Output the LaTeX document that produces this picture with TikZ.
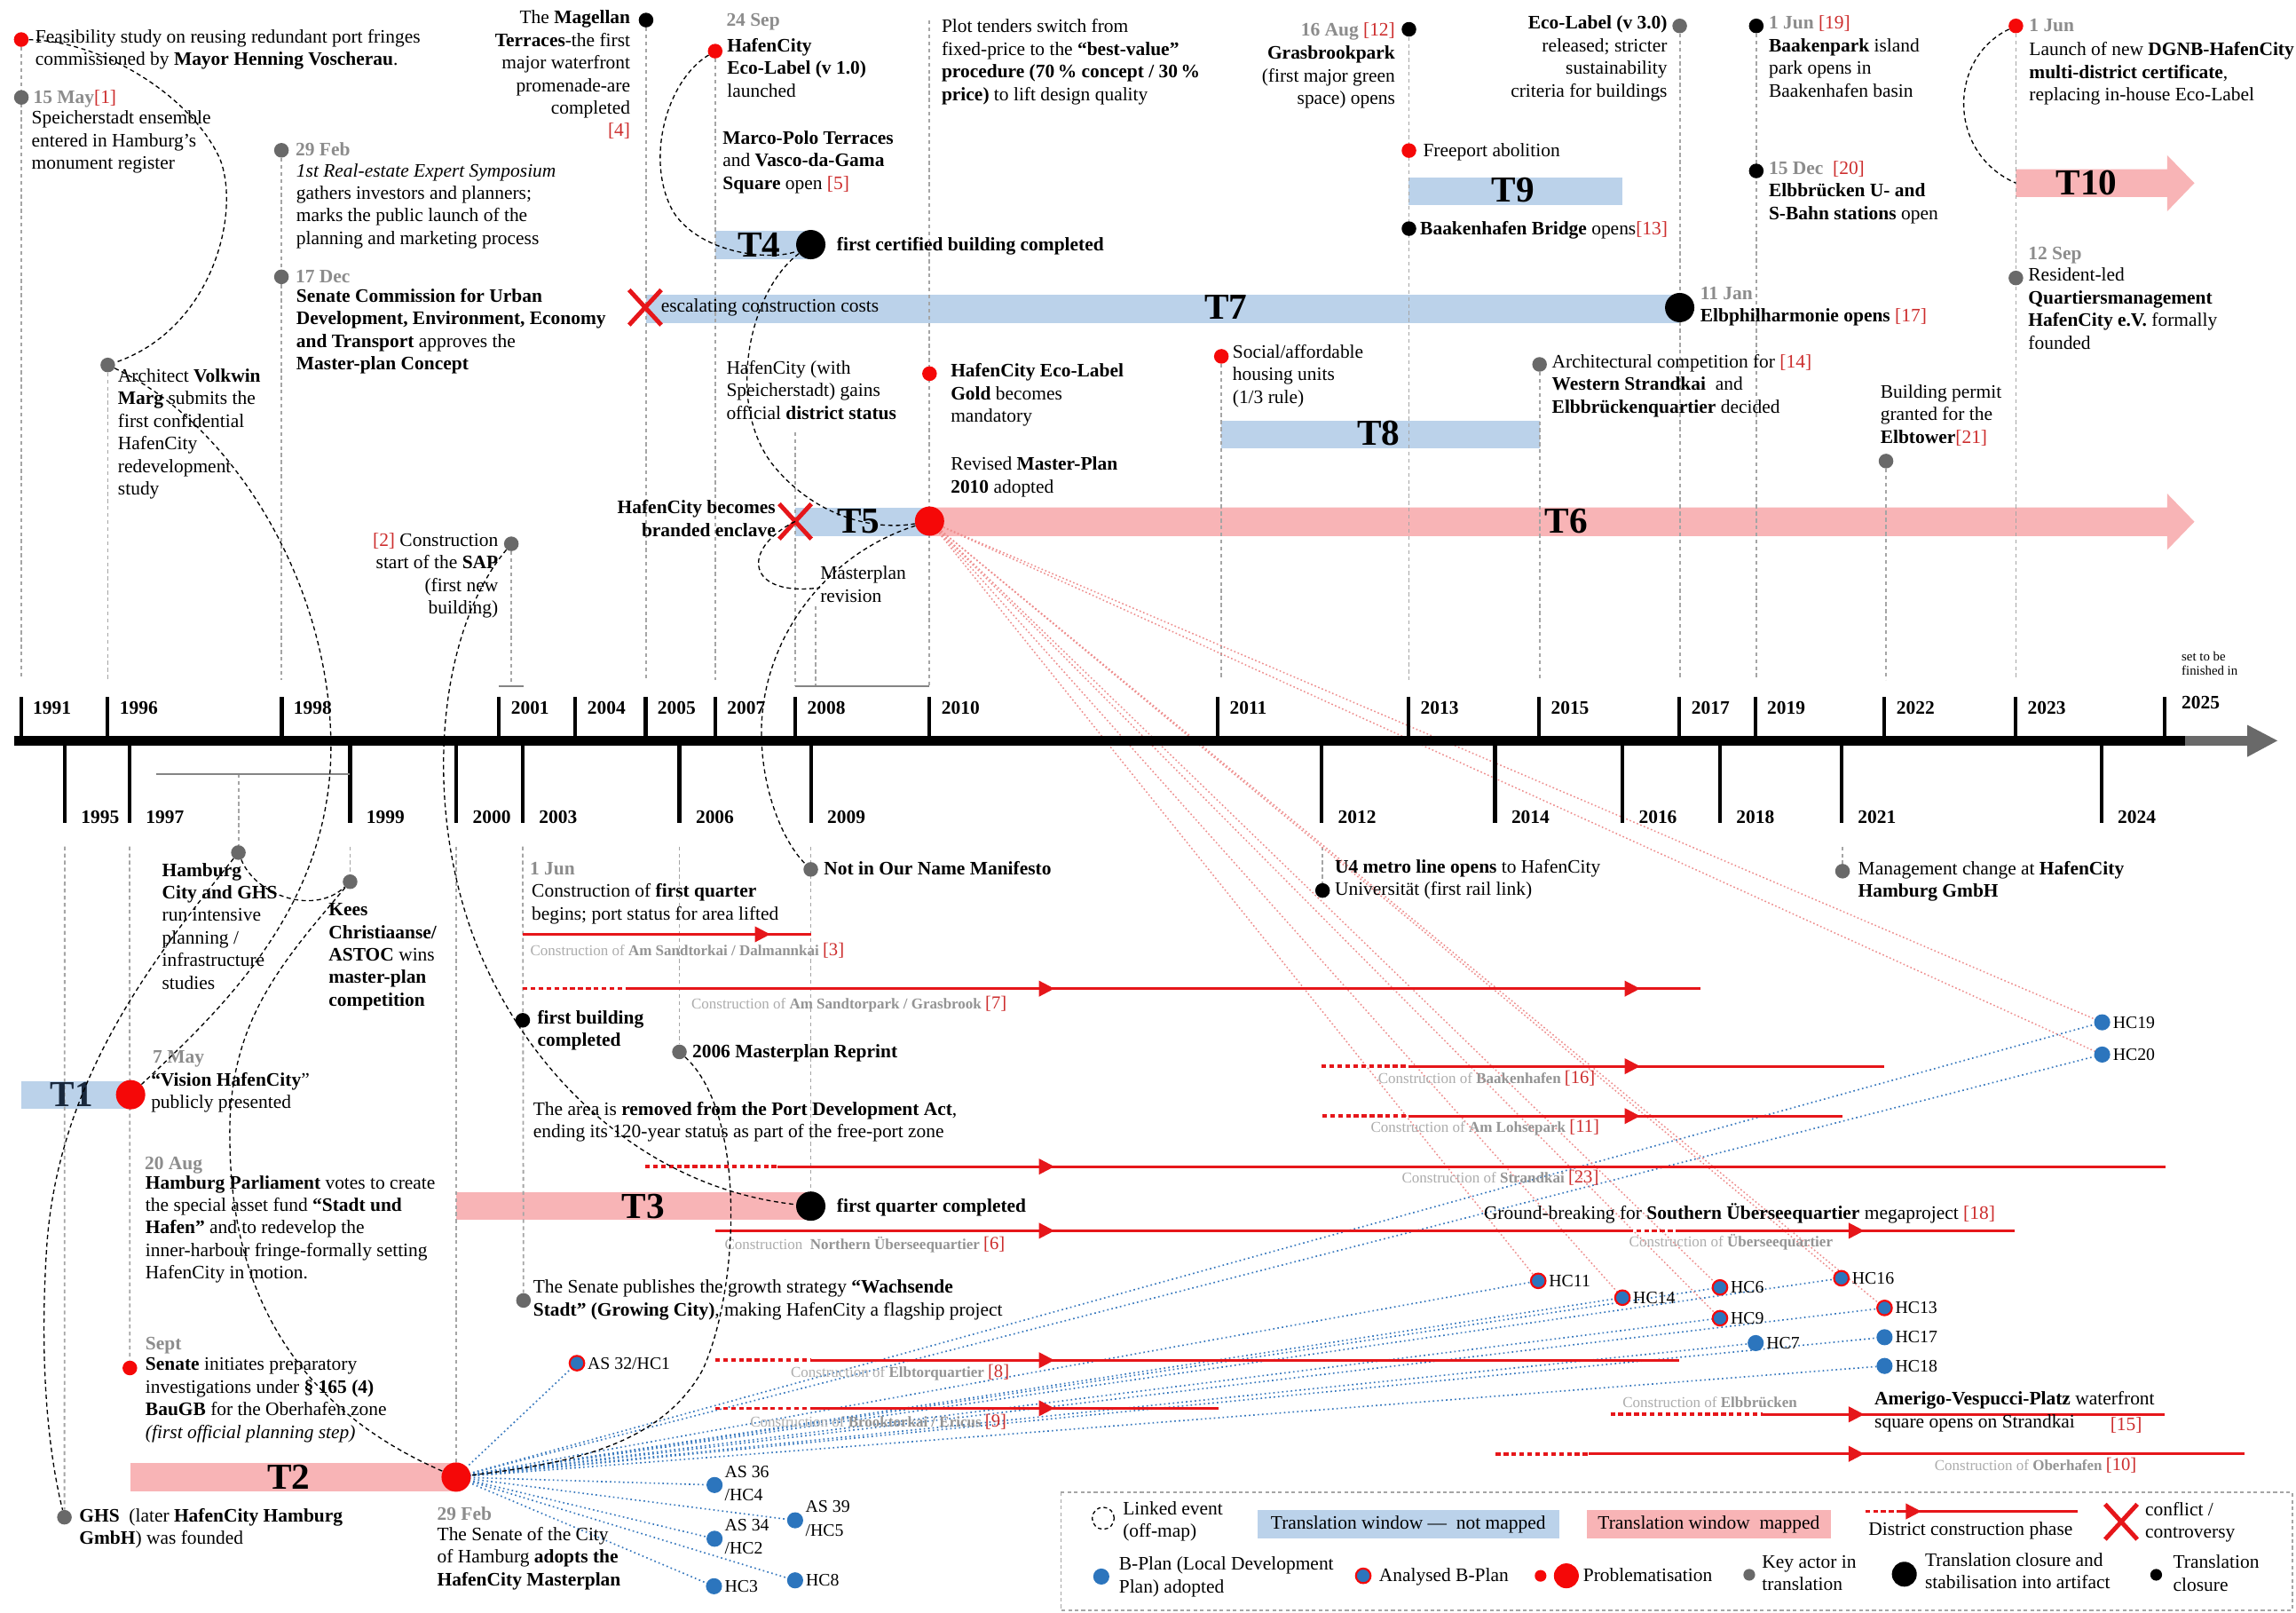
\documentclass[tikz,border=0pt]{standalone}
\usepackage{fontspec}
\setmainfont{Liberation Serif}
\usetikzlibrary{calc}
\pgfdeclarelayer{paper}
\pgfdeclarelayer{bars}
\pgfdeclarelayer{fans}
\pgfsetlayers{paper,bars,fans,main}

\definecolor{cred}{RGB}{230,22,26}
\definecolor{refred}{RGB}{205,45,45}
\definecolor{dotred}{RGB}{245,8,8}
\definecolor{actor}{RGB}{105,105,105}
\definecolor{bplan}{RGB}{44,117,189}
\definecolor{barblue}{RGB}{187,210,234}
\definecolor{barpink}{RGB}{248,180,182}
\definecolor{dategray}{RGB}{140,140,140}
\definecolor{guide}{RGB}{165,165,165}
\definecolor{lbllight}{RGB}{172,172,172}
\definecolor{lblbold}{RGB}{148,148,148}
\definecolor{fanred}{RGB}{238,140,140}
\definecolor{fanblue}{RGB}{55,120,190}
\definecolor{navyT}{RGB}{25,40,60}

\newcommand\fs{\fontsize{13}{15.4}\selectfont}
\newcommand\evdate[1]{{\color{dategray}\bfseries #1}}
\newcommand\refno[1]{{\color{refred}[#1]}}
\newcommand\refbig[1]{{\fontsize{12.5}{14}\selectfont\color{refred}[#1]}}
\newcommand\cb[1]{{\color{lblbold}\bfseries #1}}

\tikzset{
  tx/.style={font=\fs, align=left, inner sep=0pt, anchor=north west, yshift=7pt, execute at begin node=\strut},
  txr/.style={tx, align=right, anchor=north east},
  hct/.style={tx, font=\fontsize{12}{16}\selectfont, yshift=6.5pt},
  hcl/.style={font=\fontsize{12}{14}\selectfont, inner sep=0pt},
  yr/.style={font=\fontsize{13}{15}\selectfont\bfseries, inner sep=0pt, anchor=west},
  yeartick/.style={line width=2.5pt},
  guideline/.style={draw=guide, line width=1.1pt, dash pattern=on 2.6pt off 2.2pt},
  bracket/.style={draw=guide!80!black, line width=1.2pt},
  link/.style={draw=black, line width=0.8pt, dash pattern=on 3pt off 2.2pt},
  ev/.style={circle, inner sep=0pt, minimum size=10pt},
  prob/.style={ev, fill=dotred},
  probbig/.style={ev, fill=dotred, minimum size=20pt},
  actordot/.style={ev, fill=actor},
  closedot/.style={ev, fill=black},
  closebig/.style={ev, fill=black, minimum size=20pt},
  bp/.style={ev, fill=bplan, minimum size=11pt},
  bpa/.style={ev, fill=bplan, draw=dotred, line width=1.3pt, minimum size=10pt},
  tl/.style={font=\fontsize{25}{25}\selectfont\bfseries, inner sep=0pt},
  cl/.style={font=\fontsize{10.3}{12}\selectfont, text=lbllight, inner sep=0pt, anchor=west},
  cline/.style={draw=cred, line width=1.7pt},
  cdot/.style={draw=cred, line width=2.2pt, dash pattern=on 3.2pt off 2.2pt},
  bluefan/.style={draw=fanblue, line width=1pt, dash pattern=on 1pt off 2pt},
  redfan/.style={draw=fanred, line width=0.9pt, dash pattern=on 1pt off 1.6pt},
  rh/.pic={\fill[cred] (-10.5,-5.5) -- (0,0) -- (-10.5,5.5) -- cycle;},
  conflictx/.pic={\draw[cred, line width=3pt] (-11,-12) -- (11,12) (-11,12) -- (11,-12);},
}

\begin{document}
\begin{tikzpicture}[x=1pt,y=-1pt]
\begin{pgfonlayer}{paper}
  \fill[white] (0,0) rectangle (1568,1101);
\end{pgfonlayer}
\useasboundingbox (0,0) rectangle (1568,1101);

% ---------- translation windows ----------
\begin{pgfonlayer}{bars}
  \fill[barblue] (14.3,738) rectangle (89,757);
  \fill[barpink] (89,999) rectangle (311.5,1018);
  \fill[barpink] (311.5,814) rectangle (553.7,833);
  \fill[barblue] (488.4,157.5) rectangle (553.7,177);
  \fill[barblue] (543,346.5) rectangle (634.8,366);
  \fill[barpink] (634.8,346.5) -- (1480,346.5) -- (1480,337) -- (1498.6,356.2) -- (1480,375.4) -- (1480,366) -- (634.8,366) -- cycle;
  \fill[barblue] (441,201) rectangle (1147,220.5);
  \fill[barblue] (834,287) rectangle (1051.4,306);
  \fill[barblue] (962,121.4) rectangle (1108,140.3);
  \fill[barpink] (1376.7,115.5) -- (1480,115.5) -- (1480,106) -- (1498.6,125) -- (1480,144.3) -- (1480,134.4) -- (1376.7,134.4) -- cycle;
\end{pgfonlayer}

\node[tl, text=navyT] (T1) at (49,747.4) {T1};
\node[tl] (T2) at (197.2,1008.5) {T2};
\node[tl] (T3) at (439.4,823.5) {T3};
\node[tl] (T4) at (518.5,167) {T4};
\node[tl] (T5) at (586.3,356) {T5};
\node[tl] (T6) at (1069.7,356) {T6};
\node[tl] (T7) at (837.3,209.9) {T7};
\node[tl] (T8) at (941.6,296) {T8};
\node[tl] (T9) at (1033.3,129.7) {T9};
\node[tl] (T10) at (1425,125) {T10};

% ---------- time axis ----------
\foreach \x/\yy in {14.3/1991,73.6/1996,192.4/1998,340.8/2001,393/2004,440.9/2005,488.4/2007,543.1/2008,634.8/2010,831.6/2011,962/2013,1051/2015,1147/2017,1198.6/2019,1287/2022,1376.5/2023}{
  \draw[yeartick] (\x,476) -- (\x,505);
  \node[yr] (up\yy) at (\x+8,483.4) {\yy};
}
\draw[yeartick] (1478.5,476) -- (1478.5,505);
\node[yr] (up2025) at (1489.7,480) {2025};
\node[tx, font=\fontsize{9}{10}\selectfont, yshift=5pt] (finish) at (1489.7,456.6) {set to be\\finished in};
\foreach \x/\yy in {44.2/1995,88.4/1997,239.1/1999,311.6/2000,357/2003,464/2006,553.8/2009,902.6/2012,1021/2014,1108/2016,1174.6/2018,1257.6/2021,1435/2024}{
  \draw[yeartick] (\x,506) -- (\x,562);
  \node[yr] (lo\yy) at (\x+11,558) {\yy};
}
\fill[black] (10,502.2) rectangle (1492.3,509.2);
\fill[actor] (1492.3,502.2) rectangle (1535,509.2);
\fill[actor] (1534.7,494.9) -- (1555.3,505.7) -- (1534.7,516.8) -- cycle;

\draw[bracket] (106.8,528.4) -- (239.1,528.4);
\draw[bracket] (340.6,468.5) -- (357.7,468.5);
\draw[bracket] (543,468.5) -- (634.8,468.5);

% ---------- district construction phases ----------
\draw[cline] (357,637.9) -- (554.2,637.9); \pic at (526,637.9) {rh};
\draw[cdot] (357,675) -- (429.3,675); \draw[cline] (429.3,675) -- (1161,675);
\pic at (720,675) {rh}; \pic at (1120,675) {rh};
\draw[cdot] (902.6,728) -- (962,728); \draw[cline] (962,728) -- (1287,728); \pic at (1120,728) {rh};
\draw[cdot] (903,762) -- (961.6,762); \draw[cline] (961.6,762) -- (1258,762); \pic at (1120,762) {rh};
\draw[cdot] (440.6,796.5) -- (531,796.5); \draw[cline] (531,796.5) -- (1479,796.5); \pic at (720,796.5) {rh};
\draw[cline] (488.4,840.3) -- (1112,840.3); \draw[cdot] (1112,840.3) -- (1145,840.3); \draw[cline] (1145,840.3) -- (1376,840.3);
\pic at (720,840.3) {rh}; \pic at (1273,840.3) {rh};
\draw[cdot] (488.4,928.7) -- (553.6,928.7); \draw[cline] (553.6,928.7) -- (1147,928.7); \pic at (720,928.7) {rh};
\draw[cdot] (488.4,961.5) -- (553.6,961.5); \draw[cline] (553.6,961.5) -- (832.3,961.5); \pic at (720,961.5) {rh};
\draw[cdot] (1099.8,965.7) -- (1204,965.7); \draw[cline] (1204,965.7) -- (1478,965.7); \pic at (1273,965.7) {rh};
\draw[cdot] (1021.5,992.6) -- (1085,992.6); \draw[cline] (1085,992.6) -- (1533,992.6); \pic at (1273,992.6) {rh};

\node[cl] (c3) at (362,648.7) {Construction of \cb{Am Sandtorkai / Dalmannkai} \refbig{3}};
\node[cl] (c7) at (472,685.4) {Construction of \cb{Am Sandtorpark / Grasbrook} \refbig{7}};
\node[cl] (c16) at (941,736) {Construction of \cb{Baakenhafen} \refbig{16}};
\node[cl] (c11) at (936,770) {Construction of \cb{Am Lohsepark} \refbig{11}};
\node[cl] (c23) at (957.2,804.3) {Construction of \cb{Strandkai} \refbig{23}};
\node[cl] (c6) at (494.7,849.7) {Construction\enspace\cb{Northern Überseequartier} \refbig{6}};
\node[cl] (cueq) at (1112.4,848.1) {Construction of \cb{Überseequartier}};
\node[cl] (c8) at (539.9,937) {Construction of \cb{Elbtorquartier} \refbig{8}};
\node[cl] (c9) at (512.2,971) {Construction of \cb{Brooktorkai / Ericus} \refbig{9}};
\node[cl] (celb) at (1108,957.6) {Construction of \cb{Elbbrücken}};
\node[cl] (c10) at (1321,1000.6) {Construction of \cb{Oberhafen} \refbig{10}};

% ---------- events ----------
\node[prob] (feas) at (14.5,27) {};
\node[actordot] (may15) at (14.6,66.5) {};
\node[actordot] (feb29a) at (192.2,102.6) {};
\node[actordot] (dec17) at (192.2,189) {};
\node[actordot] (marg) at (73.6,249.2) {};
\node[actordot] (sap) at (349.2,371.3) {};
\node[closedot] (magellan) at (441.2,13.7) {};
\node[prob] (eco1) at (488.4,34.9) {};
\node[closebig] (t4end) at (553.7,167) {};
\node[prob] (gold) at (634.8,255.1) {};
\node[probbig] (t5end) at (634.8,355.8) {};
\node[closedot] (aug16) at (962.2,20) {};
\node[prob] (freeport) at (962.2,102.8) {};
\node[closedot] (bridge) at (962.2,156.1) {};
\node[actordot] (eco3) at (1147.1,17.7) {};
\node[closebig] (elbphil) at (1147.1,210) {};
\node[prob] (social) at (834.1,243.3) {};
\node[actordot] (compet) at (1051.4,248.8) {};
\node[closedot] (jun19) at (1199.4,17.7) {};
\node[closedot] (dec15) at (1199.4,116.7) {};
\node[actordot] (elbtower) at (1288,314.8) {};
\node[prob] (jun1) at (1376.7,17.7) {};
\node[actordot] (sep12) at (1376.7,189.8) {};
\node[actordot] (hhgs) at (162.8,582.1) {};
\node[actordot] (kees) at (239.1,602) {};
\node[actordot] (notname) at (553.7,593.6) {};
\node[closedot] (u4) at (903.2,608) {};
\node[actordot] (mgmt) at (1258.3,594.8) {};
\node[closedot] (firstbld) at (357,696.6) {};
\node[actordot] (reprint) at (464,718.2) {};
\node[probbig] (t1end) at (89.2,747.4) {};
\node[actordot] (growth) at (357.5,887.9) {};
\node[prob] (sept) at (88.7,934) {};
\node[actordot] (ghs) at (44,1035.9) {};
\node[probbig] (t2end) at (311.5,1008.5) {};
\node[closebig] (t3end) at (553.7,823.5) {};
\coordinate (xt7) at (440.6,209.9);
\coordinate (xt5) at (543.1,356);
\coordinate (t10start) at (1376.7,125);
\pic at (xt7) {conflictx};
\pic at (xt5) {conflictx};

% ---------- B-Plans ----------
\node[bpa, label={[hcl, label distance=1.5pt]east:AS 32/HC1}] (hcA) at (394,930.7) {};
\node[bp] (hcB) at (488,1013.9) {};
\node[bp] (hcC) at (543,1038) {};
\node[bp] (hcD) at (488,1050.6) {};
\node[bp, label={[hcl, label distance=1.5pt]east:HC3}] (hcE) at (487.6,1083) {};
\node[bp, label={[hcl, label distance=1.5pt]east:HC8}] (hcF) at (543,1079) {};
\node[hct] (lhcB) at (494.7,1013.9) {AS 36\\/HC4};
\node[hct] (lhcC) at (549.9,1038) {AS 39\\/HC5};
\node[hct] (lhcD) at (494.7,1050.6) {AS 34\\/HC2};
\node[bpa, label={[hcl, label distance=1.5pt]east:HC11}] (hc11) at (1050.5,874.5) {};
\node[bpa, label={[hcl, label distance=1.5pt]east:HC14}] (hc14) at (1108,886) {};
\node[bpa, label={[hcl, label distance=1.5pt]east:HC6}] (hc6) at (1174.6,879) {};
\node[bpa, label={[hcl, label distance=1.5pt]east:HC9}] (hc9) at (1174.6,900) {};
\node[bp, label={[hcl, label distance=1.5pt]east:HC7}] (hc7) at (1199,917) {};
\node[bpa, label={[hcl, label distance=1.5pt]east:HC16}] (hc16) at (1257.5,872.7) {};
\node[bpa, label={[hcl, label distance=1.5pt]east:HC13}] (hc13) at (1287,893) {};
\node[bp, label={[hcl, label distance=1.5pt]east:HC17}] (hc17) at (1287,913) {};
\node[bp, label={[hcl, label distance=1.5pt]east:HC18}] (hc18) at (1287,932.6) {};
\node[bp, label={[hcl, label distance=1.5pt]east:HC19}] (hc19) at (1435.6,698) {};
\node[bp, label={[hcl, label distance=1.5pt]east:HC20}] (hc20) at (1435.6,720) {};

% ---------- guides and fans ----------
\begin{pgfonlayer}{fans}
  \draw[guideline] (feas) -- (14.5,464);
  \draw[guideline] (marg) -- (73.6,464);
  \draw[guideline] (feb29a) -- (192.2,464);
  \draw[guideline] (sap) -- (349.2,468.5);
  \draw[guideline] (magellan) -- (441.2,464);
  \draw[guideline] (eco1) -- (488.4,464);
  \draw[guideline] (543,295) -- (543,468.5);
  \draw[guideline] (557,414) -- (557,468.5);
  \draw[guideline] (634.8,14) -- (634.8,468.5);
  \draw[guideline] (social) -- (834.1,464);
  \draw[guideline] (aug16) -- (962.2,464);
  \draw[guideline] (compet) -- (1051.4,464);
  \draw[guideline] (eco3) -- (1147.1,464);
  \draw[guideline] (jun19) -- (1199.4,464);
  \draw[guideline] (elbtower) -- (1288,464);
  \draw[guideline] (jun1) -- (1376.7,464);
  \draw[guideline] (44.2,578) -- (ghs);
  \draw[guideline] (88.5,578) -- (sept);
  \draw[guideline] (162.8,528.4) -- (hhgs);
  \draw[guideline] (239.1,578) -- (kees);
  \draw[guideline] (311.5,578) -- (t2end);
  \draw[guideline] (357,578) -- (growth);
  \draw[guideline] (464,578) -- (reprint);
  \draw[guideline] (553.7,578) -- (t3end);
  \draw[guideline] (903.2,578) -- (u4);
  \draw[guideline] (1258.3,578) -- (mgmt);
  \foreach \n in {hcA,hcB,hcC,hcD,hcE,hcF,hc11,hc14,hc6,hc9,hc7,hc16,hc13,hc17,hc18,hc19,hc20}
    \draw[bluefan] (t2end.center) -- (\n.center);
  \foreach \n in {hc11,hc14,hc6,hc9,hc16,hc13,hc19,hc20}
    \draw[redfan] (t5end.center) -- (\n.center);
\end{pgfonlayer}

% ---------- texts above the axis ----------
\node[tx] (n1) at (24,27) {Feasibility study on reusing redundant port fringes\\commissioned by \textbf{Mayor Henning Voscherau}.};
\node[tx] (n2) at (22.6,66.5) {\evdate{15 May}\refno{1}};
\node[tx] (n3) at (21.4,82.5) {Speicherstadt ensemble\\entered in Hamburg's\\monument register};
\node[tx] (n4) at (201.7,102.6) {\evdate{29 Feb}};
\node[tx] (n5) at (202.2,118.4) {\textit{1st Real-estate Expert Symposium}\\gathers investors and planners;\\marks the public launch of the\\planning and marketing process};
\node[tx] (n6) at (201.7,189) {\evdate{17 Dec}};
\node[tx] (n7) at (202.2,204) {\textbf{Senate Commission for Urban}\\\textbf{Development, Environment, Economy}\\\textbf{and Transport} approves the\\\textbf{Master-plan Concept}};
\node[tx] (n8) at (80.4,258.7) {Architect \textbf{Volkwin}\\\textbf{Marg} submits the\\first confidential\\HafenCity\\redevelopment\\study};
\node[txr] (n9) at (340.4,370.8) {\refno{2} Construction\\start of the \textbf{SAP}\\(first new\\building)};
\node[txr] (n10) at (430.6,14.1) {The \textbf{Magellan}\\\textbf{Terraces}-the first\\major waterfront\\promenade-are\\completed\\\refno{4}};
\node[tx] (n11) at (495.9,14.1) {\evdate{24 Sep}};
\node[tx] (n12) at (496.4,33) {\textbf{HafenCity}\\\textbf{Eco-Label (v 1.0)}\\launched};
\node[tx] (n13) at (493.4,96.2) {\textbf{Marco-Polo Terraces}\\and \textbf{Vasco-da-Gama}\\\textbf{Square} open \refno{5}};
\node[tx] (n14) at (571.3,167) {\textbf{first certified building completed}};
\node[tx] (n15) at (451.2,209.2) {escalating construction costs};
\node[tx] (n16) at (495.9,253) {HafenCity (with\\Speicherstadt) gains\\official \textbf{district status}};
\node[tx] (n17) at (649.1,255.1) {\textbf{HafenCity Eco-Label}\\\textbf{Gold} becomes\\mandatory};
\node[tx] (n18) at (649.1,318.8) {Revised \textbf{Master-Plan}\\\textbf{2010} adopted};
\node[txr] (n19) at (529.8,348.5) {\textbf{HafenCity becomes}\\\textbf{branded enclave}};
\node[tx] (n20) at (642.9,20) {Plot tenders switch from\\fixed-price to the \textbf{“best-value”}\\\textbf{procedure (70\,\% concept / 30\,\%}\\\textbf{price)} to lift design quality};
\node[txr] (n21) at (952.9,20.8) {\evdate{16 Aug} \refno{12}};
\node[txr] (n22) at (952.9,38.2) {\textbf{Grasbrookpark}\\(first major green\\space) opens};
\node[tx] (n23) at (971.7,102.8) {Freeport abolition};
\node[tx] (n24) at (969.7,156.1) {\textbf{Baakenhafen Bridge} opens\refno{13}};
\node[txr] (n25) at (1138.8,17.7) {\textbf{Eco-Label (v 3.0)}\\released; stricter\\sustainability\\criteria for buildings};
\node[tx] (n26) at (1161,202.8) {\evdate{11 Jan}\\\textbf{Elbphilharmonie opens} \refno{17}};
\node[tx] (n27) at (841.6,242.2) {Social/affordable\\housing units\\(1/3 rule)};
\node[tx] (n28) at (1059.7,248.8) {Architectural competition for \refno{14}\\\textbf{Western Strandkai}\ \ and\\\textbf{Elbbrückenquartier} decided};
\node[tx] (n29) at (1207.8,17.7) {\evdate{1 Jun} \refno{19}\\\textbf{Baakenpark} island\\park opens in\\Baakenhafen basin};
\node[tx] (n30) at (1207.8,116.7) {\evdate{15 Dec}\ \ \refno{20}\\\textbf{Elbbrücken U- and}\\\textbf{S-Bahn stations} open};
\node[tx] (n31) at (1284,269.5) {Building permit\\granted for the\\\textbf{Elbtower}\refno{21}};
\node[tx] (n32) at (1385.6,17.7) {\evdate{1 Jun}};
\node[tx] (n33) at (1385.6,35.8) {Launch of new \textbf{DGNB-HafenCity}\\\textbf{multi-district certificate},\\replacing in-house Eco-Label};
\node[tx] (n34) at (1385,173.3) {\evdate{12 Sep}};
\node[tx] (n35) at (1385,189.8) {Resident-led\\\textbf{Quartiersmanagement}\\\textbf{HafenCity e.V.} formally\\founded};
\node[tx] (n36) at (560,393.5) {Masterplan\\revision};

% ---------- texts below the axis ----------
\node[tx] (m1) at (110.5,596) {\textbf{Hamburg}\\\textbf{City and GHS}\\run intensive\\planning /\\infrastructure\\studies};
\node[tx] (m2) at (224.3,623.6) {\textbf{Kees}\\\textbf{Christiaanse/}\\\textbf{ASTOC} wins\\\textbf{master-plan}\\\textbf{competition}};
\node[tx] (m3) at (361.7,593.6) {\evdate{1 Jun}};
\node[tx] (m4) at (363,610.4) {Construction of \textbf{first quarter}\\begins; port status for area lifted};
\node[tx] (m5) at (562.5,593.6) {\textbf{Not in Our Name Manifesto}};
\node[tx] (m6) at (911.4,593.6) {\textbf{U4 metro line opens} to HafenCity\\Universität (first rail link)};
\node[tx] (m7) at (1268.8,594.8) {Management change at \textbf{HafenCity}\\\textbf{Hamburg GmbH}};
\node[tx] (m8) at (366.8,696.6) {\textbf{first building}\\\textbf{completed}};
\node[tx] (m9) at (472.6,718.2) {\textbf{2006 Masterplan Reprint}};
\node[tx] (m10) at (104.2,721.8) {\evdate{7 May}};
\node[tx] (m11) at (103,739.2) {\textbf{“Vision HafenCity}”\\publicly presented};
\node[tx] (m12) at (364,759) {The area is \textbf{removed from the Port Development Act},\\ending its 120-year status as part of the free-port zone};
\node[tx] (m13) at (98.7,794.7) {\evdate{20 Aug}};
\node[tx] (m14) at (99.2,809.4) {\textbf{Hamburg Parliament} votes to create\\the special asset fund \textbf{“Stadt und}\\\textbf{Hafen”} and to redevelop the\\inner-harbour fringe-formally setting\\HafenCity in motion.};
\node[tx] (m15) at (571.3,823.5) {\textbf{first quarter completed}};
\node[tx] (m16) at (1013.2,828.6) {Ground-breaking for \textbf{Southern Überseequartier} megaproject \refno{18}};
\node[tx] (m17) at (364,880.8) {The Senate publishes the growth strategy \textbf{“Wachsende}\\\textbf{Stadt” (Growing City)}, making HafenCity a flagship project};
\node[tx] (m18) at (99.2,917.6) {\evdate{Sept}};
\node[tx] (m19) at (99.2,934) {\textbf{Senate} initiates preparatory\\investigations under \textbf{§ 165 (4)}\\\textbf{BauGB} for the Oberhafen zone\\\textit{(first official planning step)}};
\node[tx] (m20) at (54,1036.6) {\textbf{GHS}\ \ (later \textbf{HafenCity Hamburg}\\\textbf{GmbH}) was founded};
\node[tx] (m21) at (298.4,1033.8) {\evdate{29 Feb}};
\node[tx] (m22) at (298.4,1049.5) {The Senate of the City\\of Hamburg \textbf{adopts the}\\\textbf{HafenCity Masterplan}};
\node[tx] (m23) at (1280,957) {\textbf{Amerigo-Vespucci-Platz} waterfront\\square opens on Strandkai};
\node[tx] (m24) at (1441,973) {\refno{15}};

% ---------- linked events ----------
\draw[link] (feas) .. controls (70,28) and (130,65) .. (150,108) .. controls (165,145) and (145,225) .. (marg);
\draw[link] (marg) .. controls (160,290) and (226,400) .. (226,510) .. controls (226,620) and (150,690) .. (t1end);
\draw[link] (hhgs) .. controls (175,612) and (215,625) .. (kees);
\draw[link] (hhgs) .. controls (100,660) and (40,740) .. (32,850) .. controls (26,940) and (35,1000) .. (ghs);
\draw[link] (kees) .. controls (190,660) and (155,700) .. (157,780) .. controls (158,880) and (200,960) .. (t2end);
\draw[link] (sap) .. controls (300,430) and (290,540) .. (320,630) .. controls (350,720) and (430,810) .. (t3end);
\draw[link] (reprint) .. controls (510,760) and (505,880) .. (480,935) .. controls (450,990) and (380,1000) .. (t2end);
\draw[link] (eco1) .. controls (455,55) and (440,110) .. (460,145) .. controls (480,175) and (530,178) .. (t4end);
\draw[link] (t4end) .. controls (510,200) and (495,280) .. (530,320) .. controls (560,355) and (600,362) .. (t5end);
\draw[link] (t5end) .. controls (560,380) and (520,440) .. (520,500) .. controls (520,540) and (535,575) .. (notname);
\draw[link] (xt5) .. controls (505,375) and (510,408) .. (n36.west);
\draw[link] (jun1) .. controls (1330,40) and (1330,105) .. (t10start);

% ---------- legend ----------
\draw[draw=guide, line width=1pt, dash pattern=on 2.5pt off 2pt] (724.5,1019) rectangle (1565.5,1099.5);
\node[circle, draw=black, line width=0.8pt, dash pattern=on 2.5pt off 2pt, minimum size=15pt, inner sep=0pt] (lglink) at (753.4,1036.6) {};
\node[tx] (lgt1) at (766.7,1031.9) {Linked event\\(off-map)};
\node[fill=barblue, minimum width=206pt, minimum height=19.4pt, inner sep=0pt, font=\fs] (lgblue) at (961.7,1040.9) {Translation window —\ \ not mapped};
\node[fill=barpink, minimum width=167pt, minimum height=19.4pt, inner sep=0pt, font=\fs] (lgpink) at (1167,1040.9) {Translation window\ \ mapped};
\draw[cdot] (1273.8,1031.9) -- (1296.7,1031.9);
\draw[cline] (1296.7,1031.9) -- (1418.6,1031.9);
\pic at (1312,1031.9) {rh};
\node[tx] (lgt2) at (1275.9,1044.3) {District construction phase};
\pic at (1448.6,1039) {conflictx};
\node[tx] (lgt3) at (1464.8,1032.6) {conflict /\\controversy};
\node[bp] (lgbp) at (752.1,1076.4) {};
\node[tx] (lgt4) at (764,1069.8) {B-Plan (Local Development\\Plan) adopted};
\node[bpa] (lgbpa) at (931,1075.9) {};
\node[tx] (lgt5) at (941.6,1075.9) {Analysed B-Plan};
\node[prob, minimum size=8pt] (lgp1) at (1052.1,1075.9) {};
\node[probbig, minimum size=17pt] (lgp2) at (1069.7,1075.9) {};
\node[tx] (lgt6) at (1081,1075.9) {Problematisation};
\node[actordot, minimum size=8pt] (lga) at (1194.6,1075.2) {};
\node[tx] (lgt7) at (1203.2,1068.9) {Key actor in\\translation};
\node[closebig, minimum size=17pt] (lgk1) at (1300.5,1074.8) {};
\node[tx] (lgt8) at (1314.5,1067) {Translation closure and\\stabilisation into artifact};
\node[closedot, minimum size=8pt] (lgk2) at (1472.5,1075.2) {};
\node[tx] (lgt9) at (1483.9,1068.7) {Translation\\closure};
\end{tikzpicture}
\end{document}
